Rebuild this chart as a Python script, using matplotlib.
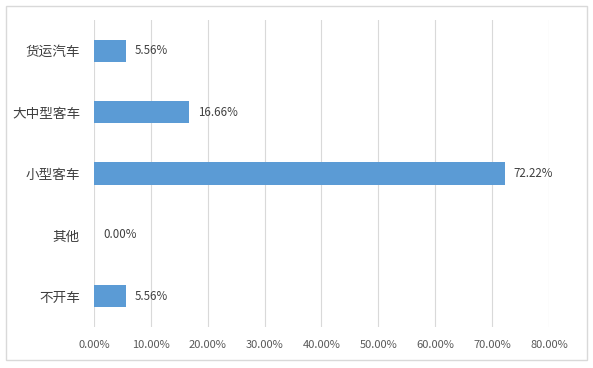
import matplotlib.pyplot as plt
from matplotlib.patches import Rectangle
from matplotlib.ticker import FuncFormatter

plt.rcParams["font.family"] = ["Noto Sans CJK SC", "DejaVu Sans"]

categories = ["货运汽车", "大中型客车", "小型客车", "其他", "不开车"]
values = [5.56, 16.66, 72.22, 0.00, 5.56]
x_ticks = [0, 10, 20, 30, 40, 50, 60, 70, 80]

fig = plt.figure(figsize=(5.93, 3.68), dpi=100)
ax = fig.add_axes([0.1585, 0.1114, 0.7673, 0.8343])

# light border around the whole chart
fig.patches.append(Rectangle((6 / 593, 8 / 368), 581 / 593, 354 / 368,
                             transform=fig.transFigure, fill=False,
                             edgecolor="#D9D9D9", linewidth=1))

y = list(range(len(categories)))
ax.barh(y, values, height=0.36, color="#5B9BD5", zorder=3)
for yi, v in zip(y, values):
    ax.text(v + 1.6, yi, f"{v:.2f}%", va="center", ha="left",
            fontsize=8.3, color="#404040")

ax.set_ylim(len(categories) - 0.5, -0.5)
ax.set_yticks(y)
ax.set_yticklabels(categories, fontsize=9.8, color="#404040")
ax.set_xlim(0, 80)
ax.set_xticks(x_ticks)
ax.xaxis.set_major_formatter(FuncFormatter(lambda v, p: f"{v:.2f}%"))
ax.tick_params(axis="x", labelsize=8, labelcolor="#595959", length=0, pad=9)
ax.tick_params(axis="y", length=0, pad=10)
ax.grid(axis="x", color="#D9D9D9", linewidth=0.8, zorder=0)
for s in ax.spines.values():
    s.set_visible(False)

fig.savefig("out.png", dpi=100)
